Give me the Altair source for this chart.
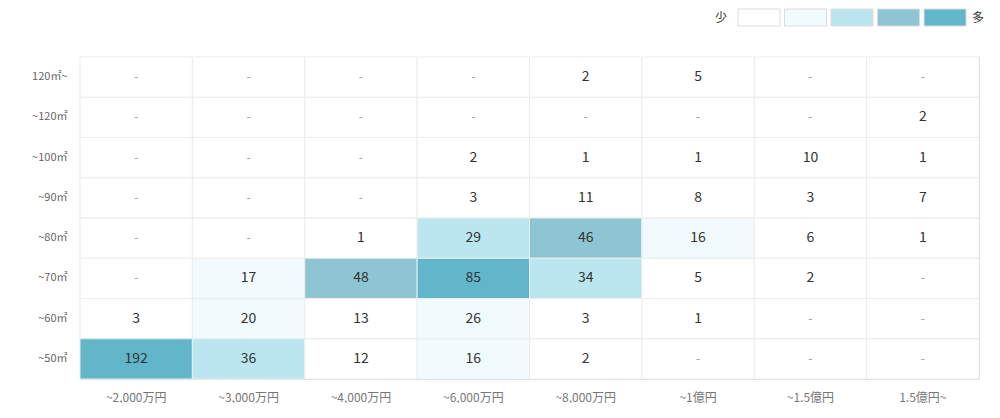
import altair as alt
import pandas as pd

prices = ["~2,000万円", "~3,000万円", "~4,000万円", "~6,000万円",
          "~8,000万円", "~1億円", "~1.5億円", "1.5億円~"]
areas = ["120㎡~", "~120㎡", "~100㎡", "~90㎡", "~80㎡", "~70㎡", "~60㎡", "~50㎡"]
N = None
counts = [
    [N, N, N, N, 2, 5, N, N],
    [N, N, N, N, N, N, N, 2],
    [N, N, N, 2, 1, 1, 10, 1],
    [N, N, N, 3, 11, 8, 3, 7],
    [N, N, 1, 29, 46, 16, 6, 1],
    [N, 17, 48, 85, 34, 5, 2, N],
    [3, 20, 13, 26, 3, 1, N, N],
    [192, 36, 12, 16, 2, N, N, N],
]
level_idx = [0, 1, 2, 3, 4]
level_colors = ["#ffffff", "#f1fafd", "#bce6ef", "#8dc6d2", "#62b6ca"]
thresholds = [15, 29, 41, 61]

rows = []
for a, row in zip(areas, counts):
    for p, c in zip(prices, row):
        rows.append({
            "area": a,
            "price": p,
            "label": "-" if c is None else str(c),
            "fillv": 0 if c is None else c,
        })
df = pd.DataFrame(rows)

FONT = "Noto Sans CJK JP"

base = alt.Chart(df).encode(
    x=alt.X("price:N", sort=prices, title=None,
            scale=alt.Scale(paddingInner=0, paddingOuter=0),
            axis=alt.Axis(orient="bottom", labelAngle=0, ticks=False, domain=False,
                          grid=False, labelPadding=13, labelFontSize=12,
                          labelColor="#777777", labelFont=FONT)),
    y=alt.Y("area:N", sort=areas, title=None,
            scale=alt.Scale(paddingInner=0, paddingOuter=0),
            axis=alt.Axis(ticks=False, domain=False, grid=False, labelPadding=13,
                          labelFontSize=11, labelColor="#666666", labelFont=FONT,
                          minExtent=72, maxExtent=72)),
)

cells = base.mark_rect(stroke="#ececec", strokeWidth=1).encode(
    color=alt.Color("fillv:Q",
                    scale=alt.Scale(type="threshold", domain=thresholds, range=level_colors),
                    legend=None)
)
texts = base.mark_text(font=FONT, baseline="middle").encode(
    text="label:N",
    color=alt.condition("datum.label == '-'", alt.value("#999999"), alt.value("#333333")),
    size=alt.condition("datum.label == '-'", alt.value(12), alt.value(14)),
)
heat = alt.layer(cells, texts)

# legend swatches, placed above the grid through a linear index scale
leg_df = pd.DataFrame({"idx": level_idx})
end_df = pd.DataFrame({"idx": [0, 4], "t": ["少", "多"]})
leg_x = alt.X("idx:Q", title=None, axis=None,
              scale=alt.Scale(domain=[-14.6, 4.73], nice=False, zero=False))
leg_rect = alt.Chart(leg_df).mark_rect(stroke="#dcdcdc", strokeWidth=1, width=42).encode(
    x=leg_x,
    y=alt.value(-48), y2=alt.value(-31),
    color=alt.Color("idx:O", scale=alt.Scale(domain=level_idx, range=level_colors),
                    legend=None),
)
leg_lo = alt.Chart(end_df).transform_filter("datum.idx == 0").mark_text(
    dx=-38, font=FONT, fontSize=12, color="#333333", baseline="middle"
).encode(x=leg_x, y=alt.value(-39.5), text="t:N")
leg_hi = alt.Chart(end_df).transform_filter("datum.idx == 4").mark_text(
    dx=33, font=FONT, fontSize=12, color="#333333", baseline="middle"
).encode(x=leg_x, y=alt.value(-39.5), text="t:N")
legend = alt.layer(leg_rect, leg_lo, leg_hi)

chart = alt.layer(heat, legend).resolve_scale(
    x="independent", y="independent", color="independent"
).properties(
    width=899, height=322,
    padding={"left": 0, "top": 0, "right": 0, "bottom": 0},
).configure_view(strokeWidth=0, stroke="transparent").configure(font=FONT)

chart.save("out.html", embed_options={"renderer": "svg", "actions": False})
